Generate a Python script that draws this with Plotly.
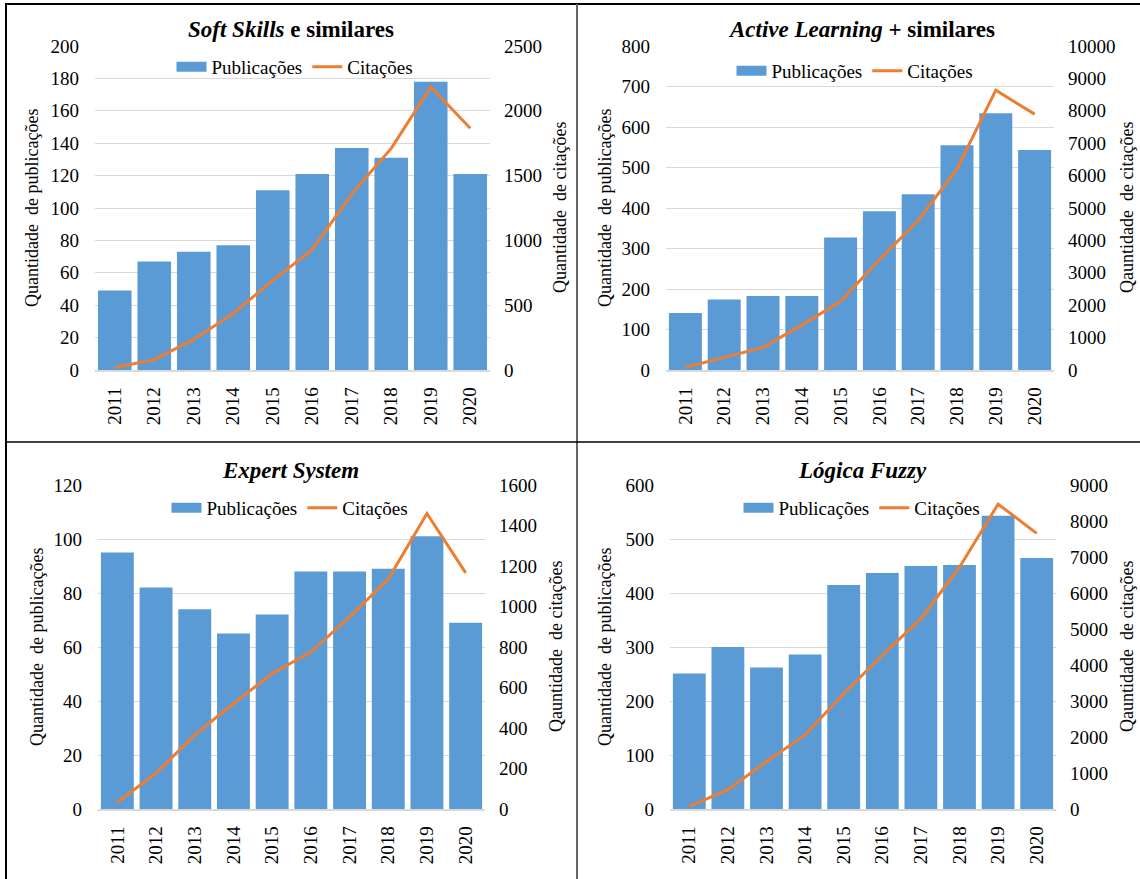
import plotly.graph_objects as go

# ---- data -------------------------------------------------------------
years = ["2011", "2012", "2013", "2014", "2015", "2016", "2017", "2018", "2019", "2020"]

soft_pub = [49, 67, 73, 77, 111, 121, 137, 131, 178, 121]
soft_cit = [20, 80, 236, 436, 692, 928, 1359, 1710, 2185, 1865]

active_pub = [141, 174, 183, 183, 327, 392, 434, 555, 634, 543]
active_cit = [80, 390, 697, 1385, 2123, 3405, 4615, 6205, 8636, 7897]

expert_pub = [95, 82, 74, 65, 72, 88, 88, 89, 101, 69]
expert_cit = [33, 177, 366, 521, 669, 775, 948, 1136, 1459, 1166]

fuzzy_pub = [251, 300, 262, 286, 415, 437, 450, 452, 543, 465]
fuzzy_cit = [74, 535, 1319, 2057, 3210, 4271, 5286, 6716, 8469, 7657]

titles = [
    "<b><i>Soft Skills</i> e similares</b>",
    "<b><i>Active Learning</i> + similares</b>",
    "<b><i>Expert System</i></b>",
    "<b><i>Lógica Fuzzy</i></b>",
]
left_title = "Quantidade  de publicações"
right_titles = [
    "Quantidade  de citações",
    "Qauntidade  de citações",
    "Qauntidade  de citações",
    "Qauntidade  de citações",
]

# ---- page geometry (pixels) --------------------------------------------
W, H = 1140, 879
FONT = "Liberation Serif"
BAR = "#5B9BD5"
LINE = "#ED7D31"
GRID = "#d9d9d9"


def px(x):
    return x / W


def py(y):
    return 1 - y / H


panels = [
    dict(pub=soft_pub, cit=soft_cit, lmax=200, ldt=20, rmax=2500, rdt=500,
         x0=95, x1=490, y0=46, y1=370, ltx=32, rtx=560, tx=291, ty=30, lgx=295, lgy=67),
    dict(pub=active_pub, cit=active_cit, lmax=800, ldt=100, rmax=10000, rdt=1000,
         x0=666, x1=1054, y0=46, y1=370, ltx=605, rtx=1127, tx=861, ty=30, lgx=855, lgy=71),
    dict(pub=expert_pub, cit=expert_cit, lmax=120, ldt=20, rmax=1600, rdt=200,
         x0=98, x1=485, y0=485, y1=809, ltx=37, rtx=556, tx=290, ty=470, lgx=290, lgy=508),
    dict(pub=fuzzy_pub, cit=fuzzy_cit, lmax=600, ldt=100, rmax=9000, rdt=1000,
         x0=670, x1=1056, y0=485, y1=809, ltx=605, rtx=1127, tx=862, ty=470, lgx=862, lgy=508),
]

fig = go.Figure()
layout = dict(
    width=W, height=H,
    margin=dict(l=0, r=0, t=0, b=0, autoexpand=False),
    paper_bgcolor="white", plot_bgcolor="white",
    font=dict(family=FONT, color="#000000", size=19),
    bargap=0.15,
    annotations=[], shapes=[],
)

for i, p in enumerate(panels):
    n = i + 1
    xid = "x" if n == 1 else f"x{n}"
    yl_n, yr_n = 2 * i + 1, 2 * i + 2
    yl = "y" if yl_n == 1 else f"y{yl_n}"
    yr = f"y{yr_n}"
    leg = "legend" if n == 1 else f"legend{n}"

    # bars (legend entry is given by the wide swatch trace below)
    fig.add_trace(go.Bar(
        x=years, y=p["pub"], name="Publicações", marker=dict(color=BAR, line=dict(width=0)),
        xaxis=xid, yaxis=yl, showlegend=False,
    ))
    # wide rectangular legend swatch for the bar series
    fig.add_trace(go.Scatter(
        x=[years[0]], y=[None], name="Publicações", mode="lines",
        line=dict(color=BAR, width=10), xaxis=xid, yaxis=yl, legend=leg,
        hoverinfo="skip",
    ))
    fig.add_trace(go.Scatter(
        x=years, y=p["cit"], name="Citações", mode="lines",
        line=dict(color=LINE, width=3), xaxis=xid, yaxis=yr, legend=leg,
    ))

    xdom = [px(p["x0"]), px(p["x1"])]
    ydom = [py(p["y1"]), py(p["y0"])]

    layout["xaxis" if n == 1 else f"xaxis{n}"] = dict(
        domain=xdom, anchor=yl, type="category",
        showline=True, linecolor=GRID, linewidth=1.5,
        showgrid=False, ticks="", tickangle=-90,
        tickfont=dict(family=FONT, size=19), ticklabelstandoff=8,
    )
    layout["yaxis" if yl_n == 1 else f"yaxis{yl_n}"] = dict(
        domain=ydom, anchor=xid, range=[0, p["lmax"]], dtick=p["ldt"],
        showgrid=True, gridcolor=GRID, gridwidth=1.2, zeroline=False,
        showline=False, ticks="", tickfont=dict(family=FONT, size=19),
        ticklabelstandoff=15,
    )
    layout[f"yaxis{yr_n}"] = dict(
        domain=ydom, anchor=xid, overlaying=yl, side="right",
        range=[0, p["rmax"]], dtick=p["rdt"], tickformat="d",
        showgrid=False, zeroline=False,
        showline=False, ticks="", tickfont=dict(family=FONT, size=19),
        ticklabelstandoff=13,
    )
    layout[leg] = dict(
        orientation="h", x=px(p["lgx"]), y=py(p["lgy"]),
        xanchor="center", yanchor="middle", bgcolor="rgba(0,0,0,0)",
        font=dict(family=FONT, size=19), itemwidth=30, tracegroupgap=0,
    )

    ymid = py((p["y0"] + p["y1"]) / 2)
    layout["annotations"] += [
        dict(text=titles[i], x=px(p["tx"]), y=py(p["ty"]), xref="paper", yref="paper",
             showarrow=False, xanchor="center", yanchor="middle",
             font=dict(family=FONT, size=23)),
        dict(text=left_title, x=px(p["ltx"]), y=ymid, xref="paper", yref="paper",
             showarrow=False, textangle=-90, xanchor="center", yanchor="middle",
             font=dict(family=FONT, size=18)),
        dict(text=right_titles[i], x=px(p["rtx"]), y=ymid, xref="paper", yref="paper",
             showarrow=False, textangle=-90, xanchor="center", yanchor="middle",
             font=dict(family=FONT, size=18)),
    ]

# ---- frame around the four panels ---------------------------------------
frame = [
    dict(x0=px(5), x1=1, y0=py(4), y1=py(4), color="#000000", width=2),
    dict(x0=px(6), x1=px(6), y0=py(4), y1=0, color="#000000", width=2),
    dict(x0=px(577), x1=px(577), y0=py(4), y1=0, color="#666666", width=2),
    dict(x0=px(5), x1=1, y0=py(442), y1=py(442), color="#000000", width=1.5),
]
for f in frame:
    layout["shapes"].append(dict(
        type="line", xref="paper", yref="paper",
        x0=f["x0"], x1=f["x1"], y0=f["y0"], y1=f["y1"],
        line=dict(color=f["color"], width=f["width"]),
    ))

fig.update_layout(**layout)
fig.write_html("out.html")
